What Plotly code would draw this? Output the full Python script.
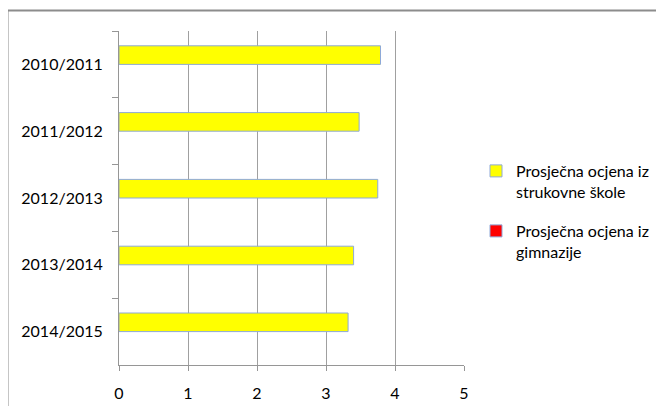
import plotly.graph_objects as go

categories = ["2010/2011", "2011/2012", "2012/2013", "2013/2014", "2014/2015"]
strukovna = [3.79, 3.48, 3.75, 3.40, 3.32]
gimnazija = [None, None, None, None, None]
series_names = ["Prosječna ocjena iz<br>strukovne škole", "Prosječna ocjena iz<br>gimnazije"]
x_ticks = [0, 1, 2, 3, 4, 5]

# the page body has an 8px margin; positions below are window pixels
OFF = 8
W, H = 664, 406
plot_left, plot_right, plot_top, plot_bottom = 119, 464, 31, 365
ml = plot_left - OFF
mt = plot_top - OFF
mr = W - (plot_right - OFF)
mb = H - (plot_bottom - OFF)
pw = W - ml - mr
ph = H - mt - mb

def px2x(px):
    return (px - OFF - ml) / pw

def py2y(py):
    return (H - mb - (py - OFF)) / ph

fig = go.Figure()
fig.add_trace(go.Bar(
    y=categories, x=strukovna, orientation="h", name=series_names[0],
    marker=dict(color="#FFFF00", line=dict(color="#8EA9D8", width=1)),
    legend="legend",
))
fig.add_trace(go.Bar(
    y=categories, x=gimnazija, orientation="h", name=series_names[1],
    marker=dict(color="#FF0000", line=dict(color="#8EA9D8", width=1)),
    legend="legend2",
))

grid = "#A0A0A0"
axis = "#969696"
leg_common = dict(
    xanchor="left", yanchor="top", font=dict(size=16, color="#000000"),
    bgcolor="rgba(0,0,0,0)", valign="top", borderwidth=0,
)
fig.update_layout(
    width=W, height=H,
    margin=dict(l=ml, r=mr, t=mt, b=mb, pad=0, autoexpand=False),
    paper_bgcolor="white", plot_bgcolor="white",
    barmode="group", bargap=0.443, bargroupgap=0,
    font=dict(family="Lato, 'Open Sans', sans-serif", size=16, color="#000000"),
    showlegend=True,
    legend=dict(x=px2x(476), y=py2y(154), **leg_common),
    legend2=dict(x=px2x(476), y=py2y(214), **leg_common),
    xaxis=dict(
        range=[0, 5], tickvals=x_ticks, showgrid=True, gridcolor=grid, gridwidth=1,
        showline=True, linecolor=axis, linewidth=1, ticks="outside", ticklen=5,
        tickcolor=axis, zeroline=False, fixedrange=True, ticklabelstandoff=9,
    ),
    yaxis=dict(
        type="category", autorange="reversed", showgrid=False,
        showline=True, linecolor=axis, linewidth=1, ticks="outside", ticklen=6,
        tickcolor=axis, tickson="boundaries", ticklabelstandoff=12, fixedrange=True,
    ),
    shapes=[dict(
        type="rect", xref="paper", yref="paper",
        x0=px2x(7.5), x1=px2x(690), y0=py2y(430), y1=py2y(10.5),
        line=dict(color="#8C8C8C", width=2), fillcolor="rgba(0,0,0,0)", layer="below",
    )],
)

fig.write_html("out.html")
